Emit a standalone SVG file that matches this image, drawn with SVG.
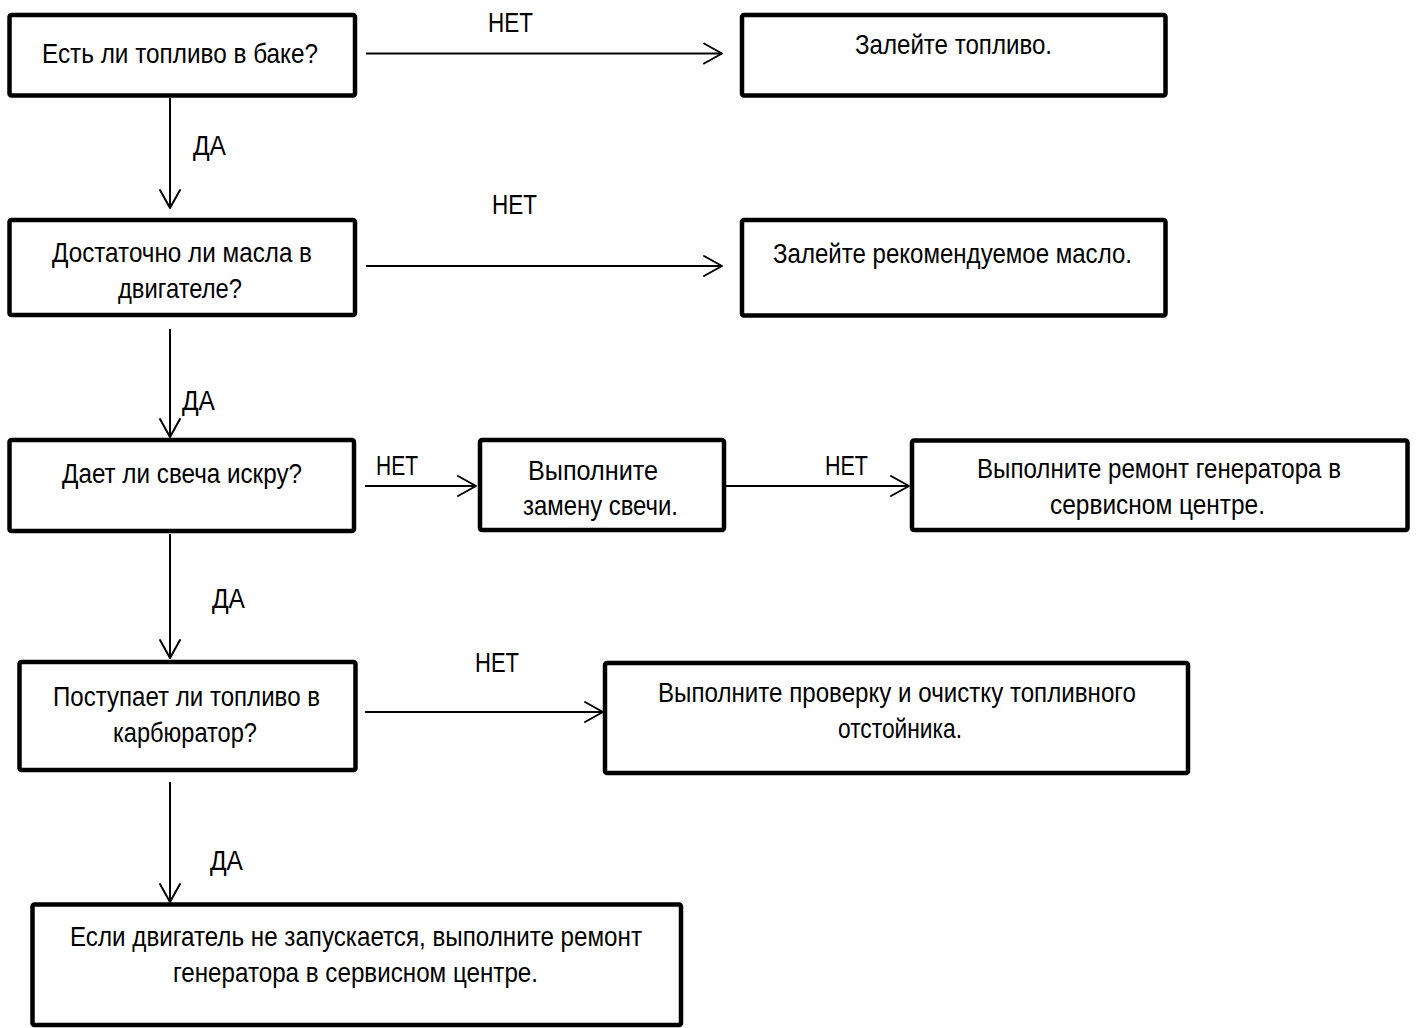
<svg xmlns="http://www.w3.org/2000/svg" width="1418" height="1028" viewBox="0 0 1418 1028">
<style>
.box{fill:#fff;stroke:#000;stroke-width:4.5;stroke-linejoin:round}
.t{font-family:"Liberation Sans",Arial,sans-serif;font-size:28px;fill:#000;text-anchor:middle}
.l{font-family:"Liberation Sans",Arial,sans-serif;font-size:27px;fill:#000}
.c{fill:none;stroke:#000;stroke-width:2}
</style>
<defs>
<marker id="ah" markerUnits="userSpaceOnUse" viewBox="-22 -13 26 26" markerWidth="26" markerHeight="26" refX="0" refY="0" orient="auto" overflow="visible">
<path d="M-18,-10 L0,0 L-18,10" fill="none" stroke="#000" stroke-width="2" stroke-linecap="round" stroke-linejoin="round"/>
</marker>
</defs>
<rect width="1418" height="1028" fill="#fff"/>

<g id="connectors">
<line class="c" x1="366" y1="53.5" x2="722" y2="53.5" marker-end="url(#ah)"/>
<line class="c" x1="366" y1="266" x2="722" y2="266" marker-end="url(#ah)"/>
<line class="c" x1="365" y1="486" x2="476" y2="486" marker-end="url(#ah)"/>
<line class="c" x1="726" y1="486" x2="909" y2="486" marker-end="url(#ah)"/>
<line class="c" x1="365" y1="712" x2="603" y2="712" marker-end="url(#ah)"/>
<line class="c" x1="170" y1="98" x2="170" y2="208" marker-end="url(#ah)"/>
<line class="c" x1="170" y1="329" x2="170" y2="437" marker-end="url(#ah)"/>
<line class="c" x1="170" y1="534" x2="170" y2="658" marker-end="url(#ah)"/>
<line class="c" x1="170" y1="782" x2="170" y2="902" marker-end="url(#ah)"/>
<text class="l" x="488" y="32" textLength="45" lengthAdjust="spacingAndGlyphs">НЕТ</text>
<text class="l" x="492" y="214" textLength="45" lengthAdjust="spacingAndGlyphs">НЕТ</text>
<text class="l" x="376" y="475" textLength="42" lengthAdjust="spacingAndGlyphs">НЕТ</text>
<text class="l" x="825" y="475" textLength="43" lengthAdjust="spacingAndGlyphs">НЕТ</text>
<text class="l" x="475" y="672" textLength="44" lengthAdjust="spacingAndGlyphs">НЕТ</text>
<text class="l" x="193" y="155" textLength="33" lengthAdjust="spacingAndGlyphs">ДА</text>
<text class="l" x="182" y="410" textLength="33" lengthAdjust="spacingAndGlyphs">ДА</text>
<text class="l" x="212" y="608" textLength="33" lengthAdjust="spacingAndGlyphs">ДА</text>
<text class="l" x="210" y="870" textLength="33" lengthAdjust="spacingAndGlyphs">ДА</text>
</g>

<g id="q-fuel">
<rect class="box" x="9.5" y="15" width="345.5" height="80.5" rx="2"/>
<text class="t" x="180" y="63" textLength="276" lengthAdjust="spacingAndGlyphs">Есть ли топливо в баке?</text>
</g>
<g id="a-fuel">
<rect class="box" x="742" y="15" width="423.5" height="80.5" rx="2"/>
<text class="t" x="953.5" y="54" textLength="197" lengthAdjust="spacingAndGlyphs">Залейте топливо.</text>
</g>

<g id="q-oil">
<rect class="box" x="9.5" y="220" width="345.5" height="95" rx="2"/>
<text class="t" x="182" y="262" textLength="260" lengthAdjust="spacingAndGlyphs">Достаточно ли масла в</text>
<text class="t" x="180" y="298" textLength="124" lengthAdjust="spacingAndGlyphs">двигателе?</text>
</g>
<g id="a-oil">
<rect class="box" x="742" y="220" width="423.5" height="95.5" rx="2"/>
<text class="t" x="952.5" y="263" textLength="359" lengthAdjust="spacingAndGlyphs">Залейте рекомендуемое масло.</text>
</g>

<g id="q-spark">
<rect class="box" x="9.5" y="440" width="344.5" height="91" rx="2"/>
<text class="t" x="182" y="483" textLength="240" lengthAdjust="spacingAndGlyphs">Дает ли свеча искру?</text>
</g>
<g id="a-plug">
<rect class="box" x="480" y="440" width="244" height="90" rx="2"/>
<text class="t" x="593" y="480" textLength="130" lengthAdjust="spacingAndGlyphs">Выполните</text>
<text class="t" x="600.5" y="515" textLength="155" lengthAdjust="spacingAndGlyphs">замену свечи.</text>
</g>
<g id="a-service1">
<rect class="box" x="912" y="440.5" width="495.5" height="89.5" rx="2"/>
<text class="t" x="1159" y="478" textLength="364" lengthAdjust="spacingAndGlyphs">Выполните ремонт генератора в</text>
<text class="t" x="1157.5" y="514" textLength="215" lengthAdjust="spacingAndGlyphs">сервисном центре.</text>
</g>

<g id="q-carb">
<rect class="box" x="19.5" y="662" width="336" height="108" rx="2"/>
<text class="t" x="186.5" y="706" textLength="267" lengthAdjust="spacingAndGlyphs">Поступает ли топливо в</text>
<text class="t" x="185" y="742" textLength="144" lengthAdjust="spacingAndGlyphs">карбюратор?</text>
</g>
<g id="a-sump">
<rect class="box" x="605" y="663" width="583" height="110" rx="2"/>
<text class="t" x="897" y="702" textLength="478" lengthAdjust="spacingAndGlyphs">Выполните проверку и очистку топливного</text>
<text class="t" x="900" y="738" textLength="124" lengthAdjust="spacingAndGlyphs">отстойника.</text>
</g>

<g id="a-final">
<rect class="box" x="32.5" y="904.5" width="648.5" height="120.5" rx="2"/>
<text class="t" x="356" y="946" textLength="572" lengthAdjust="spacingAndGlyphs">Если двигатель не запускается, выполните ремонт</text>
<text class="t" x="355.5" y="982" textLength="365" lengthAdjust="spacingAndGlyphs">генератора в сервисном центре.</text>
</g>
</svg>
